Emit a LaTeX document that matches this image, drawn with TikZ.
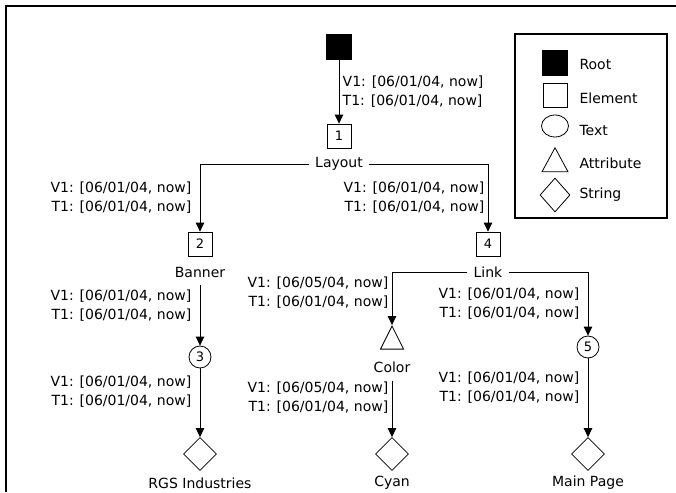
\documentclass[tikz,border=0pt]{standalone}
\usepackage{fontspec}
\setmainfont{DejaVu Sans}
\usetikzlibrary{arrows.meta,shapes.geometric}

\begin{document}
\begin{tikzpicture}[x=1pt, y=-1pt,
    every node/.style={font=\fontsize{14}{19}\selectfont},
    rootnode/.style={draw, fill=black, minimum size=25pt, inner sep=0pt},
    elem/.style={draw, line width=0.8pt, minimum size=24pt, inner sep=0pt, font=\fontsize{13}{13}\selectfont},
    txt/.style={draw, circle, line width=0.8pt, minimum size=22pt, inner sep=0pt, font=\fontsize{13}{13}\selectfont},
    attr/.style={draw, isosceles triangle, shape border rotate=90, isosceles triangle stretches, minimum width=23pt, minimum height=23pt, inner sep=0pt, line width=0.8pt},
    str/.style={draw, diamond, minimum width=33pt, minimum height=33pt, inner sep=0pt, line width=0.8pt},
    tag/.style={inner xsep=6pt, inner ysep=8pt},
    edge/.style={line width=0.8pt, -{Triangle[width=8.5pt, length=9pt]}},
    lblL/.style={left, align=right},
    lblR/.style={right, align=left}]
    \useasboundingbox (0,0) rectangle (676,492);
    \draw[line width=1.5pt] (676,6) -- (6,6) -- (6,492);

    % tree
    \node[rootnode] (root) at (339,47) {};
    \node[elem] (n1) at (339,136) {1};
    \node[tag] (layout) at (339,164) {Layout};
    \node[elem] (n2) at (200,244) {2};
    \node[tag] (banner) at (200,272) {Banner};
    \node[txt] (n3) at (200,357) {3};
    \node[str] (rgs) at (200,454) {};
    \node (rgslbl) at (200,483) {RGS Industries};
    \node[elem] (n4) at (488,244) {4};
    \node[tag] (link) at (488,272) {Link};
    \node[attr] (color) at (392,342) {};
    \node[tag] (colorlbl) at (392,367) {Color};
    \node[str] (cyan) at (392,454) {};
    \node (cyanlbl) at (392,483) {Cyan};
    \node[txt] (n5) at (588,347) {5};
    \node[str] (mainpage) at (588,454) {};
    \node (mainpagelbl) at (588,483) {Main Page};

    \draw[edge] (root) -- node[lblR] {V1: [06/01/04, now]\\T1: [06/01/04, now]} (n1);
    \draw[edge] (layout) -| node[pos=0.75, lblL, xshift=-5pt] {V1: [06/01/04, now]\\T1: [06/01/04, now]} (n2);
    \draw[edge] (layout) -| node[pos=0.75, lblL] {V1: [06/01/04, now]\\T1: [06/01/04, now]} (n4);
    \draw[edge] (banner) -- node[pos=0.34, lblL, xshift=-5pt] {V1: [06/01/04, now]\\T1: [06/01/04, now]} (n3);
    \draw[edge] (n3) -- node[pos=0.34, lblL, xshift=-5pt] {V1: [06/01/04, now]\\T1: [06/01/04, now]} (rgs);
    \draw[edge] (link) -| node[pos=0.69, lblL] {V1: [06/05/04, now]\\T1: [06/01/04, now]} (color);
    \draw[edge] (colorlbl) -- node[pos=0.3, lblL] {V1: [06/05/04, now]\\T1: [06/01/04, now]} (cyan);
    \draw[edge] (link) -| node[pos=0.75, lblL, xshift=-5pt] {V1: [06/01/04, now]\\T1: [06/01/04, now]} (n5);
    \draw[edge] (n5) -- node[pos=0.37, lblL, xshift=-5pt] {V1: [06/01/04, now]\\T1: [06/01/04, now]} (mainpage);

    % legend
    \draw[line width=1.2pt] (515,34) rectangle (667,218);
    \node[rootnode] (keyroot) at (555,63) {};
    \node[anchor=west] (keyrootlbl) at (576,64) {Root};
    \node[elem] (keyelem) at (555,95) {};
    \node[anchor=west] (keyelemlbl) at (576,98) {Element};
    \node[draw, ellipse, line width=0.8pt, minimum width=27pt, minimum height=22pt, inner sep=0pt] (keytext) at (555,126) {};
    \node[anchor=west] (keytextlbl) at (576,130) {Text};
    \node[attr, minimum width=26pt, minimum height=24pt] (keyattr) at (555,164) {};
    \node[anchor=west] (keyattrlbl) at (576,163) {Attribute};
    \node[str, minimum width=30pt, minimum height=34pt] (keystr) at (555,195) {};
    \node[anchor=west] (keystrlbl) at (576,195) {String};
\end{tikzpicture}
\end{document}
